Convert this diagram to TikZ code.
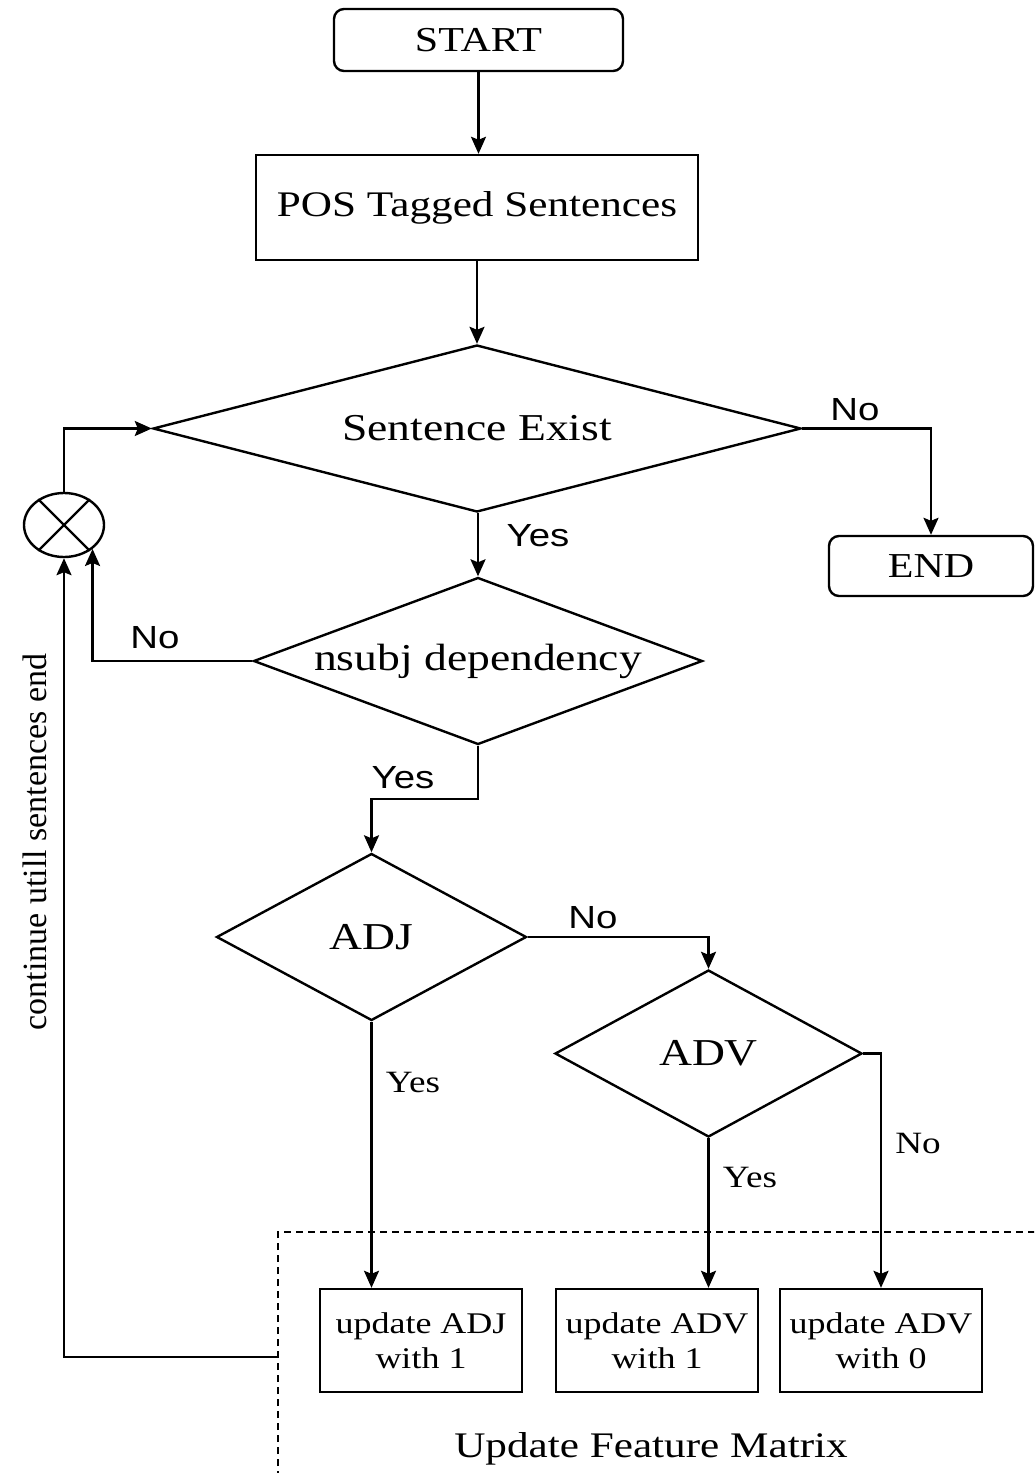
\documentclass[tikz,border=0pt]{standalone}
\usepackage{fontspec}
\setmainfont{Liberation Serif}[FakeStretch=1.2]
\newfontfamily\lblsans{Liberation Sans}[FakeStretch=1.2]
\newfontfamily\uprightserif{Liberation Serif}
\usetikzlibrary{shapes.geometric,arrows.meta,calc}

\tikzset{
  base/.style={draw=black, line width=2.4pt, inner sep=0pt, align=center},
  term/.style={base, rounded corners=10pt, font=\fontsize{35}{40}\selectfont},
  proc/.style={base, rectangle, font=\fontsize{36}{42}\selectfont},
  upd/.style={base, rectangle, minimum width=202pt, minimum height=103pt,
              font=\fontsize{30}{35}\selectfont},
  dec/.style={base, diamond, aspect=3.5, font=\fontsize{38}{44}\selectfont},
  arr/.style={draw=black, line width=2.4pt,
              -{Stealth[length=17pt,width=15pt,inset=3pt]}},
  sanslbl/.style={font=\lblsans\fontsize{32}{36}\selectfont, inner sep=0pt},
  seriflbl/.style={font=\fontsize{31}{36}\selectfont, inner sep=0pt},
  frame/.style={draw=black, line width=1.8pt, dash pattern=on 7pt off 5pt}
}

\begin{document}
\begin{tikzpicture}[x=1pt,y=-1pt]
\useasboundingbox (0,0) rectangle (1034,1473);
\clip (0,0) rectangle (1034,1473);

% main flow
\node[term, minimum width=289pt, minimum height=62pt] (start) at (478.5,40) {START};
\node[proc, minimum width=442pt, minimum height=105pt] (pos) at (477,207.5) {POS Tagged Sentences};
\node[dec, minimum width=648pt, minimum height=167pt] (se) at (477,428.5) {Sentence Exist};
\node[term, minimum width=204pt, minimum height=60pt] (end) at (931,566) {END};
\node[dec, minimum width=440pt, minimum height=167pt] (ns) at (478,661) {nsubj dependency};
\node[dec, minimum width=310pt, minimum height=167pt] (adj) at (371.5,937) {ADJ};
\node[dec, minimum width=307pt, minimum height=167pt] (adv) at (708.5,1053.5) {ADV};

% feature-matrix updates
\node[upd] (u1) at (421,1340.5) {update ADJ\\with 1};
\node[upd] (u2) at (657,1340.5) {update ADV\\with 1};
\node[upd] (u3) at (881,1340.5) {update ADV\\with 0};
\draw[frame] (278,1490) -- (278,1232) -- (1050,1232);
\node[font=\fontsize{36}{42}\selectfont, inner sep=0pt] (fmlbl) at (651,1449) {Update Feature Matrix};
\coordinate (fmout) at (278,1357);

% loop junction
\node[draw=black, line width=2.4pt, ellipse, minimum width=80pt, minimum height=64pt, inner sep=0pt] (jn) at (64,525) {};
\draw[line width=2.2pt] (jn.45) -- (jn.225) (jn.135) -- (jn.315);

% connectors
\draw[arr] (start.south) -- (start.south |- pos.north);
\draw[arr] (pos.south) -- (pos.south |- se.north);
\draw[arr] (se.east) -| (end.north);
\draw[arr] (ns.north |- se.south) -- (ns.north);
\draw[arr] (ns.west) -| (jn.-40);
\draw[arr] (jn.north) |- (se.west);
\draw[arr] (ns.south) -- ++(0,53) -| (adj.north);
\draw[arr] (adj.east) -| (adv.north);
\draw[arr] (adj.south) -- (adj.south |- u1.north);
\draw[arr] (adv.south) -- (adv.south |- u2.north);
\draw[arr] (adv.east) -| (u3.north);
\draw[arr] (fmout) -| (jn.south);

% branch labels
\node[sanslbl] (l1) at (855,410) {No};
\node[sanslbl] (l2) at (538,536) {Yes};
\node[sanslbl] (l3) at (155,638) {No};
\node[sanslbl] (l4) at (403,778) {Yes};
\node[sanslbl] (l5) at (593,918) {No};
\node[seriflbl] (l6) at (413,1082) {Yes};
\node[seriflbl] (l7) at (750,1177) {Yes};
\node[seriflbl] (l8) at (918,1143) {No};
\node[font=\uprightserif\fontsize{34}{40}\selectfont, inner sep=0pt, rotate=90] (loopl) at (35,842) {continue utill sentences end};
\end{tikzpicture}
\end{document}
